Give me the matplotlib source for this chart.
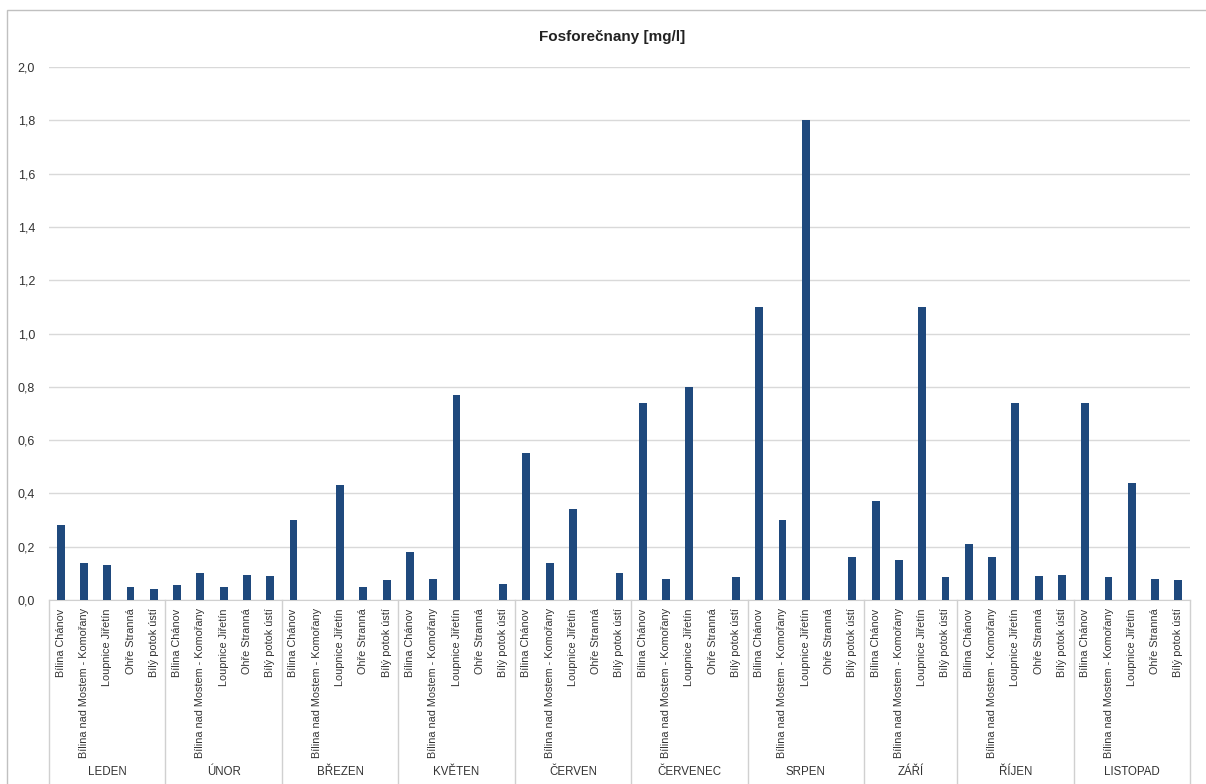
"Fosforecnany bar chart"
import matplotlib.pyplot as plt
import matplotlib.transforms as mtransforms
from matplotlib.patches import Rectangle
import numpy as np

plt.rcParams['font.family'] = ['Liberation Sans', 'DejaVu Sans']

STATIONS = ['Bílina Chánov', 'Bílina nad Mostem - Komořany', 'Loupnice Jiřetín',
            'Ohře Stranná', 'Bílý potok ústí']
STATIONS_ZARI = ['Bílina Chánov', 'Bílina nad Mostem - Komořany', 'Loupnice Jiřetín',
                 'Bílý potok ústí']

months = ['LEDEN', 'ÚNOR', 'BŘEZEN', 'KVĚTEN', 'ČERVEN', 'ČERVENEC', 'SRPEN',
          'ZÁŘÍ', 'ŘÍJEN', 'LISTOPAD']

leden = [0.28, 0.14, 0.13, 0.05, 0.04]
unor = [0.055, 0.10, 0.05, 0.095, 0.09]
brezen = [0.30, np.nan, 0.43, 0.05, 0.075]
kveten = [0.18, 0.08, 0.77, np.nan, 0.06]
cerven = [0.55, 0.14, 0.34, np.nan, 0.10]
cervenec = [0.74, 0.08, 0.80, np.nan, 0.085]
srpen = [1.10, 0.30, 1.80, np.nan, 0.16]
zari = [0.37, 0.15, 1.10, 0.085]
rijen = [0.21, 0.16, 0.74, 0.09, 0.095]
listopad = [0.74, 0.085, 0.44, 0.08, 0.075]

month_values = [leden, unor, brezen, kveten, cerven, cervenec, srpen, zari, rijen, listopad]
month_stations = [STATIONS] * 7 + [STATIONS_ZARI] + [STATIONS] * 2

yticks = np.arange(0, 2.01, 0.2)


def main():
    "main"
    fig = plt.figure(figsize=(12.06, 7.84), dpi=100)
    W, H = 1206, 784
    ax = fig.add_axes([49 / W, 1 - 600 / H, (1190 - 49) / W, (600 - 67) / H])

    labels, vals, bounds = [], [], [0]
    for sts, mv in zip(month_stations, month_values):
        labels += sts
        vals += mv
        bounds.append(bounds[-1] + len(sts))
    x = np.arange(len(vals))

    ax.bar(x, vals, width=0.34, color='#1f497d', zorder=3)
    ax.set_xlim(-0.5, len(vals) - 0.5)
    ax.set_ylim(0, 2.0)
    ax.set_yticks(yticks)
    ax.set_yticklabels([('%.1f' % v).replace('.', ',') for v in yticks],
                       fontsize=9, color='#333333')
    ax.set_xticks(x)
    ax.set_xticklabels(labels, rotation=90, fontsize=7.8, color='#333333',
                       va='top')
    ax.tick_params(axis='both', length=0)
    ax.tick_params(axis='x', pad=6)
    ax.tick_params(axis='y', pad=10)
    ax.grid(axis='y', color='#d9d9d9', linewidth=1, zorder=0)
    for s in ['top', 'right', 'left']:
        ax.spines[s].set_visible(False)
    ax.spines['bottom'].set_color('#d0d0d0')

    trans = mtransforms.blended_transform_factory(ax.transData, ax.transAxes)
    for b in bounds:
        ax.plot([b - 0.5, b - 0.5], [0, -0.36], transform=trans, color='#d0d0d0',
                linewidth=1, clip_on=False)
    for i, m in enumerate(months):
        ax.text((bounds[i] + bounds[i + 1]) / 2 - 0.5, -0.323, m, transform=trans,
                ha='center', va='center', fontsize=8.3, color='#333333')

    fig.text(612 / W, 1 - 37 / H, 'Fosforečnany [mg/l]', ha='center', va='center',
             fontsize=11, fontweight='bold', color='#222222')
    fig.patches.append(Rectangle((7 / W, -0.1), 1.2, 1 - 10 / H + 0.1,
                                 transform=fig.transFigure, fill=False,
                                 edgecolor='#c0c0c0', linewidth=1))

    plt.savefig('out.png', dpi=100)


if __name__ == '__main__':
    main()
